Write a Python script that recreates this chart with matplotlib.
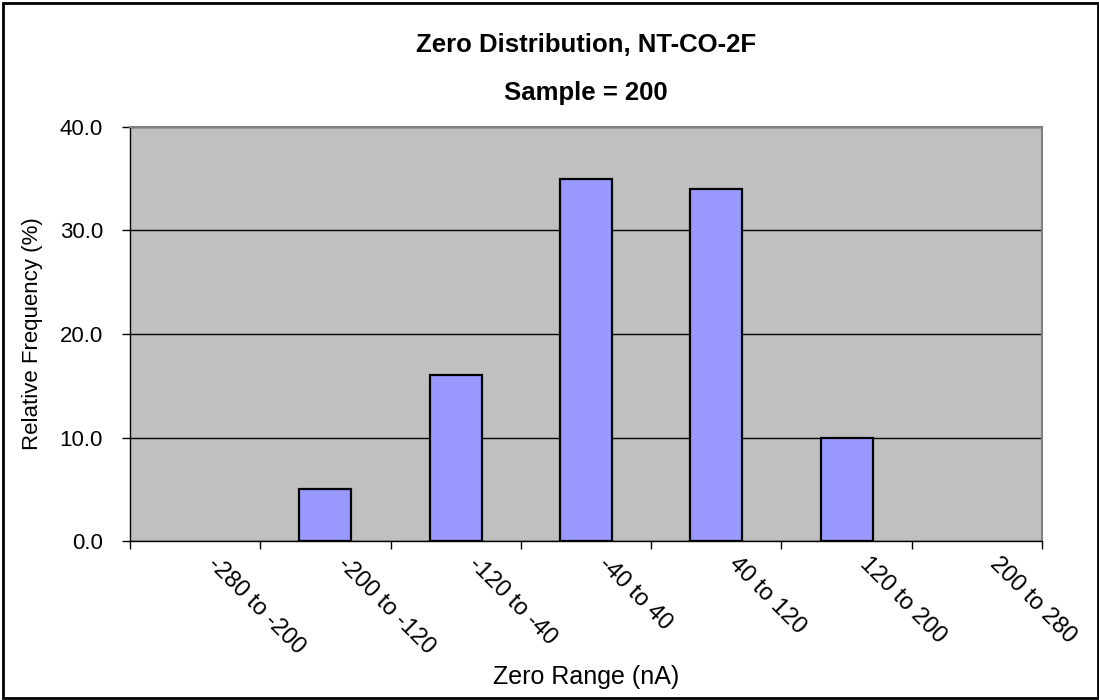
import matplotlib
matplotlib.use("Agg")
import matplotlib.pyplot as plt
import matplotlib.transforms as mtransforms
from matplotlib.patches import Rectangle
from matplotlib.ticker import FixedLocator, FormatStrFormatter

categories = ["-280 to -200", "-200 to -120", "-120 to -40", "-40 to 40",
              "40 to 120", "120 to 200", "200 to 280"]
freq = [0, 5, 16, 35, 34, 10, 0]

plt.rcParams['font.family'] = ['Liberation Sans', 'DejaVu Sans']

W, H = 1099, 700
fig = plt.figure(figsize=(W / 100, H / 100), dpi=100)
ax = fig.add_axes([130 / W, 1 - 541 / H, (1042 - 130) / W, (541 - 127) / H])

ax.set_facecolor('#C0C0C0')
x = list(range(len(categories)))
bars = ax.bar(x, freq, width=0.4, color='#9999FF', edgecolor='black', linewidth=1.6, zorder=3)
# empty classes show nothing in the original
for b, v in zip(bars, freq):
    if v == 0:
        b.set_linewidth(0)

ax.set_xlim(-0.5, len(categories) - 0.5)
ax.set_ylim(0, 40)
ax.set_yticks([0, 10, 20, 30, 40])
ax.yaxis.set_major_formatter(FormatStrFormatter('%.1f'))
ax.yaxis.grid(True, color='black', linewidth=1, zorder=1)
ax.set_axisbelow(True)

# category labels: slanted, starting a little right of each category centre
ax.set_xticks(x)
ax.set_xticklabels([])
ax.tick_params(axis='x', which='major', length=0)
offset = mtransforms.ScaledTranslation(24 / 100, -11.5 / 100, fig.dpi_scale_trans)
for i, cat in enumerate(categories):
    ax.text(i, 0, cat, transform=ax.get_xaxis_transform() + offset, fontsize=17,
            rotation=-45, ha='left', va='top', rotation_mode='anchor', clip_on=False)

ax.xaxis.set_minor_locator(FixedLocator([i - 0.5 for i in range(len(categories) + 1)]))
ax.tick_params(axis='x', which='minor', length=6, width=1, direction='out')
ax.tick_params(axis='y', length=6, width=1, direction='out', labelsize=16, pad=13.5)

for s in ['left', 'bottom']:
    ax.spines[s].set_color('black')
    ax.spines[s].set_linewidth(1)
for s in ['top', 'right']:
    ax.spines[s].set_color('#808080')
    ax.spines[s].set_linewidth(1.5)

fig.text(33 / W, 1 - 334 / H, 'Relative Frequency (%)', fontsize=16, rotation=90,
         ha='center', va='center')
fig.text(586 / W, 1 - 677 / H, 'Zero Range (nA)', fontsize=18, ha='center', va='center')

fig.text(586 / W, 1 - 45 / H, 'Zero Distribution, NT-CO-2F', fontsize=18.5,
         fontweight='bold', ha='center', va='center')
fig.text(586 / W, 1 - 93 / H, 'Sample = 200', fontsize=18.5,
         fontweight='bold', ha='center', va='center')

fig.patches.append(Rectangle((3 / W, 2 / H), 1 - 4.5 / W, 1 - 4.5 / H, transform=fig.transFigure,
                             fill=False, edgecolor='black', linewidth=2))

fig.savefig('out.png', dpi=100)
